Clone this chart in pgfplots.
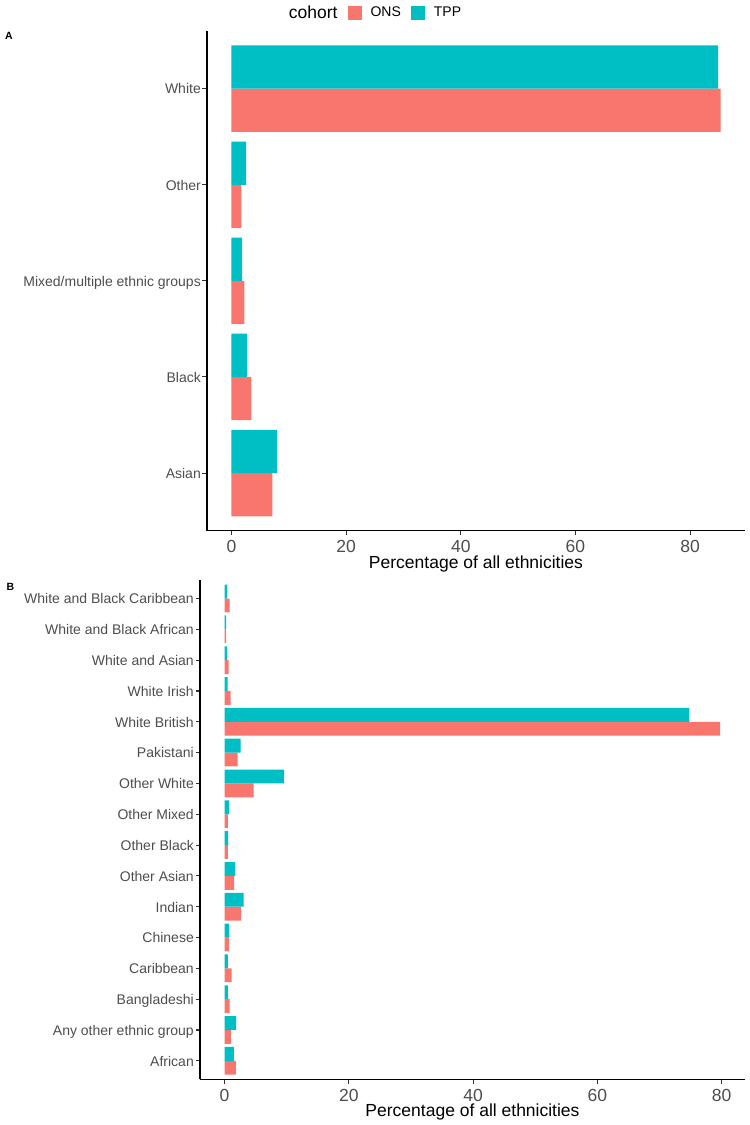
\documentclass[border=0pt]{standalone}
\usepackage{fontspec}
\setmainfont{Liberation Sans}
\usepackage{pgfplots}
\pgfplotsset{compat=1.18}
\definecolor{ons}{HTML}{F8766D}
\definecolor{tpp}{HTML}{00BFC4}
\definecolor{tickgray}{HTML}{4D4D4D}
\definecolor{tickline}{HTML}{333333}
\pgfplotsset{
 gg/.style={
  scale only axis,
  axis lines*=left,
  axis line style={black, line width=1.07pt},
  tick align=outside,
  major tick length=4.5pt,
  tick style={color=tickline, line width=1.07pt},
  xtick={0,20,40,60,80},
  /pgf/number format/assume math mode=true,
  xticklabel style={font=\fontsize{17.5}{17.5}\selectfont, text=tickgray, anchor=base, inner sep=0pt, yshift=-17.5pt},
  yticklabel style={font=\fontsize{14}{14}\selectfont, text=tickgray, anchor=base east, inner sep=0pt, xshift=-1.5pt, yshift=-5.3pt},
  xlabel style={font=\fontsize{17.5}{17.5}\selectfont, at={(axis description cs:0.5,0)}, anchor=base, yshift=-37.5pt, inner sep=0pt},
  xlabel={Percentage of all ethnicities},
  legend image code/.code={\fill[#1] (0pt,-7pt) rectangle (14pt,7pt);},
 },
}
\begin{document}
\begin{tikzpicture}
\useasboundingbox (0,0) rectangle (750pt,-1125pt);
% Panel A
\begin{axis}[gg,
  at={(207pt,-530.7pt)}, anchor=south west,
  width=538pt, height=499.7pt,
  xmin=-4.27, xmax=89.57, ymin=0.4, ymax=5.6,
  ytick={1,2,3,4,5},
  yticklabels={Asian,Black,Mixed/multiple ethnic groups,Other,White},
  legend columns=-1,
  legend style={draw=none, fill=none, inner sep=0pt, outer sep=0pt,
    font=\fontsize{14}{14}\selectfont,
    nodes={inner sep=0pt},
    at={(axis description cs:0.304,1.037)}, anchor=center,
    /tikz/every odd column/.append style={column sep=9pt},
    /tikz/every even column/.append style={column sep=10pt}},
]
\addlegendimage{empty legend}
\addlegendentry{\fontsize{17.5}{17.5}\selectfont cohort}
\addplot[xbar, fill=ons, draw=none, bar width=0.45, bar shift=-0.225]
  coordinates {(7.14,1) (3.48,2) (2.26,3) (1.74,4) (85.3,5)};
\addlegendentry{ONS}
\addplot[xbar, fill=tpp, draw=none, bar width=0.45, bar shift=0.225]
  coordinates {(7.96,1) (2.73,2) (1.86,3) (2.56,4) (84.9,5)};
\addlegendentry{TPP}
\end{axis}
% Panel B
\begin{axis}[gg,
  at={(200pt,-1079.3pt)}, anchor=south west,
  width=545pt, height=499.3pt,
  xmin=-3.95, xmax=83.75, ymin=0.4, ymax=16.6,
  ytick={1,...,16},
  yticklabels={African,Any other ethnic group,Bangladeshi,Caribbean,Chinese,Indian,Other Asian,Other Black,Other Mixed,Other White,Pakistani,White British,White Irish,White and Asian,White and Black African,White and Black Caribbean},
]
\addplot[xbar, fill=ons, draw=none, bar width=0.45, bar shift=-0.225]
  coordinates {(1.82,1) (1.02,2) (0.80,3) (1.13,4) (0.70,5) (2.68,6) (1.55,7) (0.54,8) (0.54,9) (4.66,10) (2.09,11) (79.75,12) (0.96,13) (0.64,14) (0.27,15) (0.80,16)};
\addplot[xbar, fill=tpp, draw=none, bar width=0.45, bar shift=0.225]
  coordinates {(1.50,1) (1.88,2) (0.54,3) (0.54,4) (0.70,5) (3.05,6) (1.71,7) (0.59,8) (0.75,9) (9.59,10) (2.57,11) (74.8,12) (0.48,13) (0.43,14) (0.27,15) (0.43,16)};
\end{axis}
\node[anchor=base west, inner sep=0pt, font=\fontsize{10.5}{10.5}\selectfont\bfseries] at (5pt,-39.3pt) {A};
\node[anchor=base west, inner sep=0pt, font=\fontsize{10.5}{10.5}\selectfont\bfseries] at (6.5pt,-590.5pt) {B};
\end{tikzpicture}
\end{document}
